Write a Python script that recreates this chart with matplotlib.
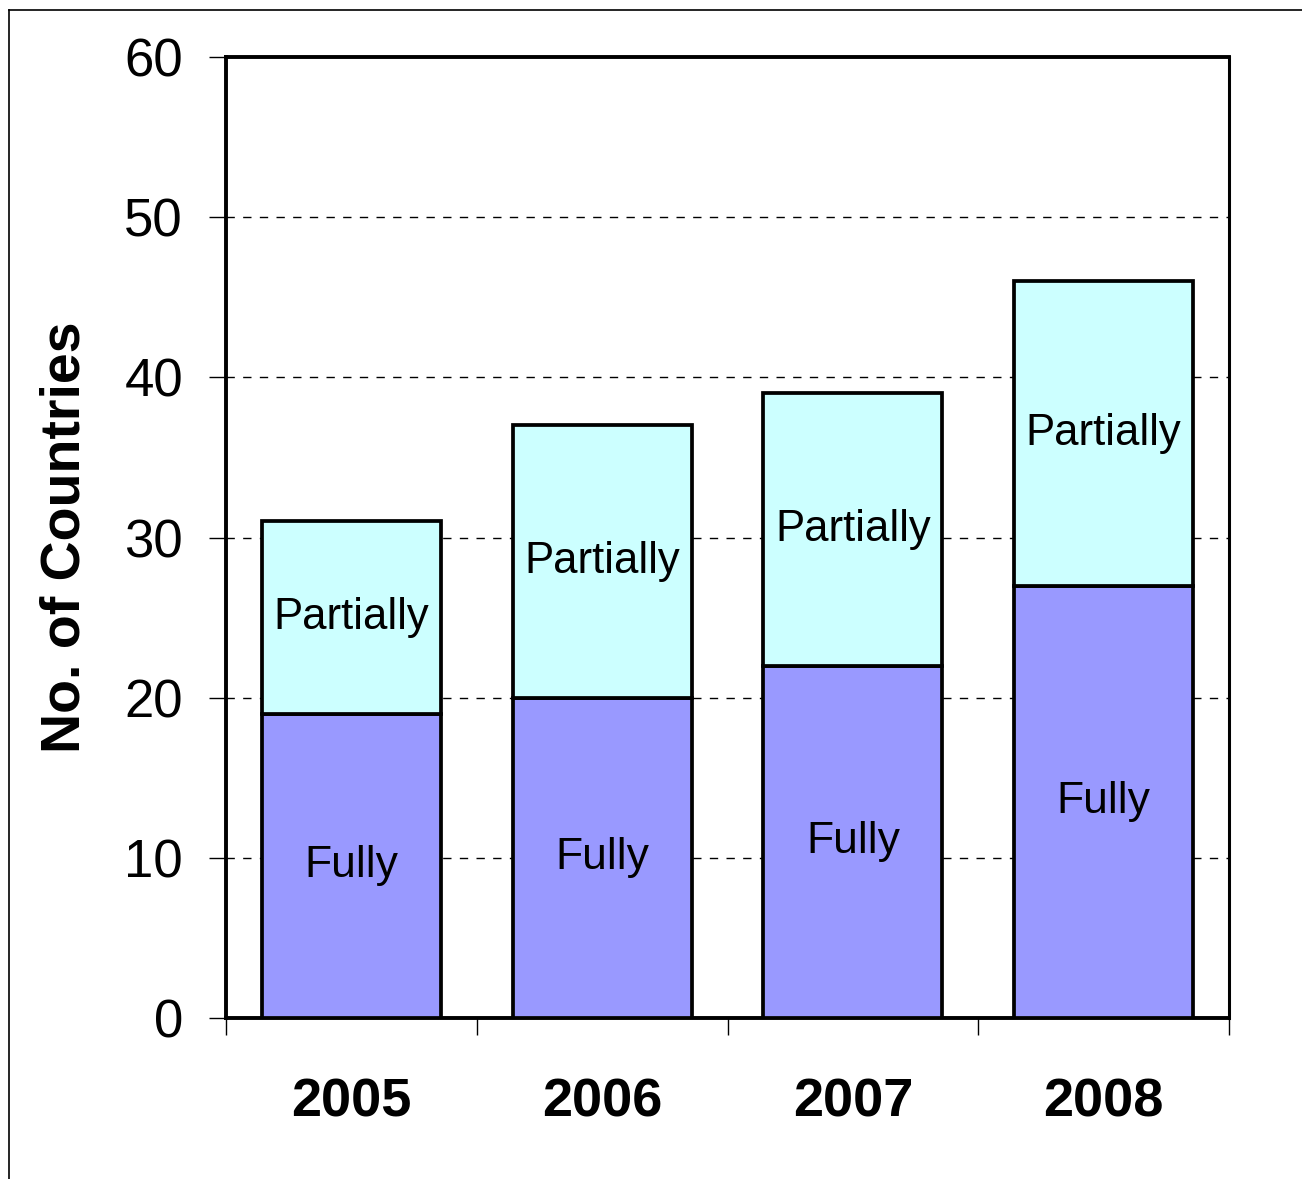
import matplotlib
matplotlib.use("Agg")
import matplotlib.pyplot as plt
from matplotlib.lines import Line2D
import numpy as np

years = ["2005", "2006", "2007", "2008"]
fully = [19, 20, 22, 27]
partially = [12, 17, 17, 19]

plt.rcParams["font.family"] = ["Liberation Sans", "DejaVu Sans"]

W, H, DPI = 1302, 1179, 100
fig = plt.figure(figsize=(W / DPI, H / DPI), dpi=DPI)
ax = fig.add_axes([226 / W, 1 - 1018 / H, 1003 / W, 961 / H])

x = np.arange(len(years))
bw = 0.714
ax.bar(x, fully, width=bw, color="#9999FF", edgecolor="black", linewidth=2.7, zorder=3)
ax.bar(x, partially, width=bw, bottom=fully, color="#CCFFFF", edgecolor="black",
       linewidth=2.7, zorder=3)

for xi, f, p in zip(x, fully, partially):
    ax.text(xi, f / 2, "Fully", ha="center", va="center", fontsize=32, zorder=4)
    ax.text(xi, f + p / 2, "Partially", ha="center", va="center", fontsize=31.5, zorder=4)

ax.set_xlim(-0.5, len(years) - 0.5)
ax.set_ylim(0, 60)
ax.set_yticks(np.arange(0, 61, 10))
ax.tick_params(axis="y", direction="out", length=12, width=1.0, pad=19, labelsize=38)

ax.set_xticks(x)
ax.set_xticklabels(years, fontsize=39, fontweight="bold")
ax.set_xticks(np.arange(-0.5, len(years), 1.0), minor=True)
ax.tick_params(axis="x", which="major", length=0, pad=43)
ax.tick_params(axis="x", which="minor", direction="out", length=12, width=1.0)

for yv in range(10, 60, 10):
    ax.axhline(yv, color="black", linewidth=1.0, linestyle=(0, (6, 6)), zorder=1)

for name, sp in ax.spines.items():
    sp.set_linewidth(2.8 if name != "right" else 2.2)
    sp.set_color("black")

ax.set_ylabel("No. of Countries", fontsize=40, fontweight="bold")
ax.yaxis.set_label_coords((92 - 226) / 1003, 0.5)

# outer frame
fig.add_artist(Line2D([9 / W, 1.0], [1 - 10 / H, 1 - 10 / H], color="black",
                      linewidth=1.2, transform=fig.transFigure))
fig.add_artist(Line2D([9 / W, 9 / W], [0.0, 1 - 10 / H], color="black",
                      linewidth=1.2, transform=fig.transFigure))

fig.savefig("out.png", dpi=DPI)
